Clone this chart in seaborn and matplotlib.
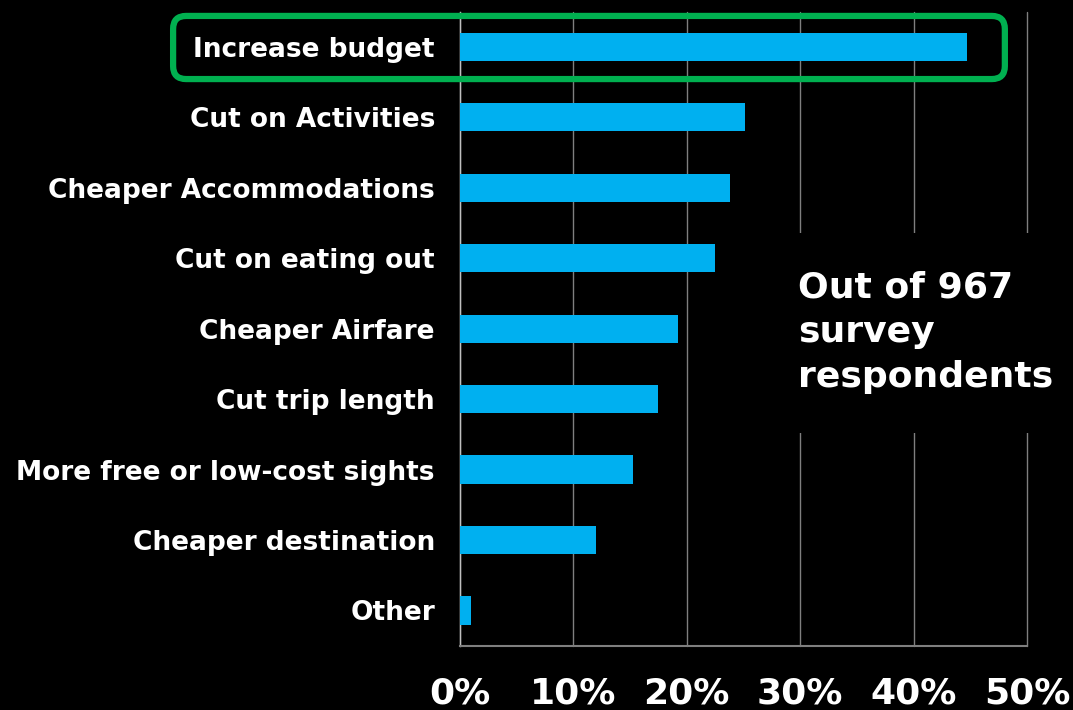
import matplotlib
matplotlib.use("Agg")
import matplotlib.pyplot as plt
import matplotlib.transforms as mtransforms
from matplotlib.patches import FancyBboxPatch, Rectangle
import seaborn as sns
import pandas as pd

# Survey answers: how travellers plan to handle higher trip costs
categories = [
    "Increase budget",
    "Cut on Activities",
    "Cheaper Accommodations",
    "Cut on eating out",
    "Cheaper Airfare",
    "Cut trip length",
    "More free or low-cost sights",
    "Cheaper destination",
    "Other",
]
shares = [44.7, 25.1, 23.8, 22.5, 19.2, 17.5, 15.3, 12.0, 1.0]
x_ticks = [0, 10, 20, 30, 40, 50]
x_tick_labels = ["0%", "10%", "20%", "30%", "40%", "50%"]
note = "Out of 967\nsurvey\nrespondents"

df = pd.DataFrame({"option": categories, "share": shares})

sns.set_theme(style="dark")
plt.rcParams["font.family"] = ["DejaVu Sans"]
plt.rcParams["font.weight"] = "bold"

BAR = "#00B0F0"
GREEN = "#00B050"

fig = plt.figure(figsize=(10.73, 7.10), dpi=100, facecolor="black")
ax = fig.add_axes([0.4287, 0.0906, 0.5284, 0.8929])
ax.set_facecolor("black")

sns.barplot(data=df, x="share", y="option", order=categories, color=BAR,
            width=0.4, saturation=1, linewidth=0, edgecolor="none",
            ax=ax, zorder=3)

ax.set_xlim(0, 50)
ax.set_ylim(len(categories) - 0.5, -0.5)
ax.set_xticks(x_ticks)
ax.set_xticklabels(x_tick_labels)
ax.set_xlabel("")
ax.set_ylabel("")

ax.grid(axis="x", color="#7f7f7f", linewidth=1.0, zorder=0)
ax.grid(axis="y", visible=False)
for gl in ax.get_xgridlines():
    gl.set_clip_on(False)
ax.tick_params(axis="both", length=0, colors="white")
ax.tick_params(axis="y", pad=18, labelsize=19)
ax.tick_params(axis="x", pad=22, labelsize=26)
for lab in ax.get_xticklabels() + ax.get_yticklabels():
    lab.set_fontweight("bold")
    lab.set_color("white")

for side in ("top", "right"):
    ax.spines[side].set_visible(False)
ax.spines["left"].set_color("#bfbfbf")
ax.spines["left"].set_linewidth(1.0)
ax.spines["bottom"].set_color("#7f7f7f")
ax.spines["bottom"].set_linewidth(1.5)

# Black panel behind the respondent note, hiding the gridlines there
ax.add_patch(Rectangle((0.565, 0.335), 0.5, 0.316, transform=ax.transAxes,
                       facecolor="black", edgecolor="none", zorder=2,
                       clip_on=False))
ax.text(0.596, 0.592, note, transform=ax.transAxes, ha="left", va="top",
        color="white", fontsize=26, fontweight="bold", linespacing=1.4,
        zorder=4)

# Rounded highlight around the top answer, built in display pixels
blend = mtransforms.blended_transform_factory(ax.transAxes, ax.transData)
x0, y0 = blend.transform((-0.506, 0.456))
x1, y1 = blend.transform((0.961, -0.44))
box = FancyBboxPatch((x0, y0), x1 - x0, y1 - y0,
                     boxstyle="round,pad=0,rounding_size=13",
                     transform=mtransforms.IdentityTransform(),
                     facecolor="none", edgecolor=GREEN, linewidth=4.5,
                     zorder=5)
fig.add_artist(box)

fig.savefig("out.png", dpi=100, facecolor="black")
